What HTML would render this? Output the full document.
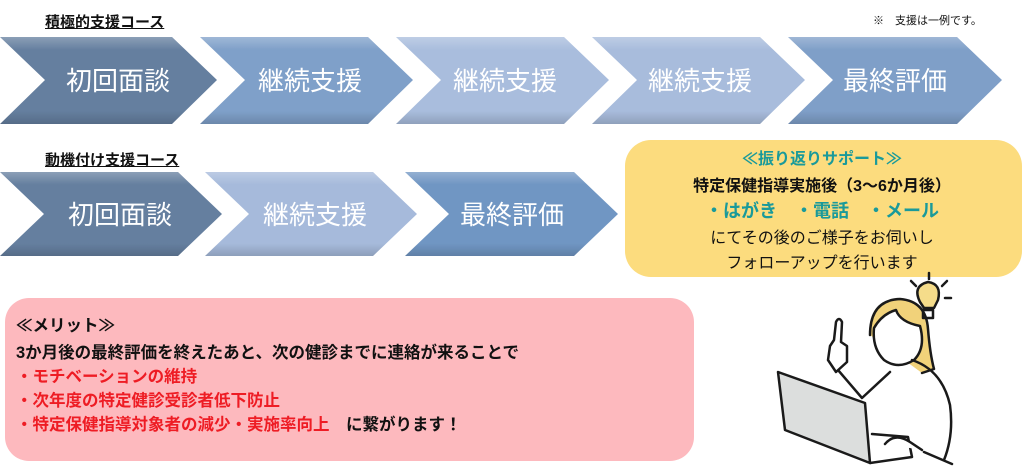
<!DOCTYPE html>
<html><head><meta charset="utf-8"><style>
body{margin:0;width:1024px;height:474px;background:#fff;overflow:hidden;position:relative;font-family:"Liberation Sans","Noto Sans CJK JP",sans-serif}
.t{position:absolute;font-weight:bold;font-size:15px;text-decoration:underline;color:#111}
</style></head><body>
<svg width="1024" height="474" style="position:absolute;left:0;top:0" font-family="Liberation Sans, Noto Sans CJK JP, sans-serif">
<defs>
<linearGradient id="sh" x1="0" y1="0" x2="0" y2="1"><stop offset="0" stop-color="#fff" stop-opacity=".25"/><stop offset=".15" stop-color="#fff" stop-opacity="0"/><stop offset=".85" stop-color="#000" stop-opacity="0"/><stop offset="1" stop-color="#000" stop-opacity=".15"/></linearGradient>
</defs>
<g>
<polygon points="0,37 172,37 217,80 172,124 0,124 45,80" fill="#657f9f"/>
<polygon points="200,37 368,37 413,80 368,124 200,124 245,80" fill="#7fa0c9"/>
<polygon points="396,37 564,37 609,80 564,124 396,124 441,80" fill="#a9bddd"/>
<polygon points="592,37 760,37 805,80 760,124 592,124 637,80" fill="#a8bcdc"/>
<polygon points="788,37 957,37 1002,80 957,124 788,124 833,80" fill="#7f9fc8"/>
</g>
<g>
<polygon points="0,172 178,172 222,214 178,256 0,256 44,214" fill="#657f9f"/>
<polygon points="205,172 373,172 417,214 373,256 205,256 249,214" fill="#a6badb"/>
<polygon points="405,172 574,172 618,214 574,256 405,256 449,214" fill="#7096c3"/>
</g>
<g fill="url(#sh)">
<polygon points="0,37 172,37 217,80 172,124 0,124 45,80"/><polygon points="200,37 368,37 413,80 368,124 200,124 245,80"/><polygon points="396,37 564,37 609,80 564,124 396,124 441,80"/><polygon points="592,37 760,37 805,80 760,124 592,124 637,80"/><polygon points="788,37 957,37 1002,80 957,124 788,124 833,80"/>
<polygon points="0,172 178,172 222,214 178,256 0,256 44,214"/><polygon points="205,172 373,172 417,214 373,256 205,256 249,214"/><polygon points="405,172 574,172 618,214 574,256 405,256 449,214"/>
</g>
<g fill="#fff" font-size="26" text-anchor="middle">
<text x="118" y="90">初回面談</text><text x="310" y="90">継続支援</text><text x="505" y="90">継続支援</text><text x="700" y="90">継続支援</text><text x="895" y="90">最終評価</text>
<text x="120" y="224">初回面談</text><text x="315" y="224">継続支援</text><text x="512" y="224">最終評価</text>
</g>
<text x="873" y="24" font-size="11" fill="#111">※　支援は一例です。</text>
<rect x="625" y="140" width="397" height="137" rx="26" fill="#fcdc7e"/>
<g font-size="16" text-anchor="middle" fill="#111">
<text x="822" y="164" fill="#1a9a9a" font-weight="bold">≪振り返りサポート≫</text>
<text x="822" y="191" font-weight="bold">特定保健指導実施後（3～6か月後）</text>
<text x="822" y="217" fill="#1a9a9a" font-size="18" font-weight="bold">・はがき　・電話　・メール</text>
<text x="822" y="243">にてその後のご様子をお伺いし</text>
<text x="822" y="268">フォローアップを行います</text>
</g>
<rect x="5" y="298" width="689" height="163" rx="24" fill="#fdb9be"/>
<g font-size="16.5" font-weight="bold" fill="#111">
<text x="16" y="331">≪メリット≫</text>
<text x="16" y="358">3か月後の最終評価を終えたあと、次の健診までに連絡が来ることで</text>
<text x="16" y="382" fill="#ee1c24">・モチベーションの維持</text>
<text x="16" y="406" fill="#ee1c24">・次年度の特定健診受診者低下防止</text>
<text x="16" y="430"><tspan fill="#ee1c24">・特定保健指導対象者の減少・実施率向上</tspan>　に繋がります！</text>
</g>
<g stroke="#1a1a1a" stroke-width="2.5" fill="none" stroke-linecap="round" stroke-linejoin="round">
<path d="M870,335 q0,-35 30,-36 q26,2 28,30 q2,25 6,40 l-12,4" fill="#f1d27a"/>
<path d="M874,328 q8,-14 22,-18 q4,12 24,16 q6,22 -6,34 q-16,10 -30,0 q-12,-12 -10,-32z" fill="#fff"/>
<path d="M912,360 q30,10 38,45 q4,30 -6,55"/>
<path d="M890,372 l-28,26 l-24,-28"/>
<path d="M836,372 l-8,-12 l2,-14 l4,-6 l2,-18 q3,-6 6,0 l-1,20 l6,4 l0,16 z" fill="#fff"/>
<path d="M778,372 L865,403 L870,463 L785,430 Z" fill="#dcdedd"/>
<path d="M870,463 l42,-6 l-4,-20 l-36,-3"/>
<path d="M885,444 q10,-12 25,-2 l12,8" fill="#fff"/>
<path d="M924,452 l28,12"/>
<path d="M920,302 q-8,-16 8,-20 q14,2 10,18 l-4,8 l-10,0z" fill="#f5dc8a"/>
<path d="M923,310 l10,0 l0,8 l-10,0z"/>
<path d="M929,279 l0,-6 M916,286 l-5,-5 M942,286 l5,-5 M945,298 l6,0"/>
</g>
</svg>
<div class="t" style="left:45px;top:11px">積極的支援コース</div>
<div class="t" style="left:45px;top:149px">動機付け支援コース</div>
</body></html>
